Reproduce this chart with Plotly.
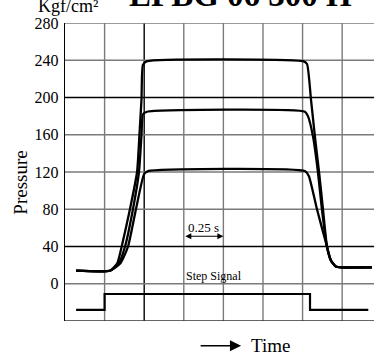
import plotly.graph_objects as go

# ---- data (time in s, pressure in kgf/cm2) ----
t_240 = [0.07, 0.284, 0.33, 0.358, 0.41, 0.455, 0.47, 0.483, 0.492, 0.518, 1.503, 1.528, 1.553, 1.578, 1.604, 1.629, 1.654, 1.679, 1.71, 1.742, 1.938]
p_240 = [14, 14, 22, 40, 80, 120, 160, 198, 235, 239, 239, 236, 198, 158, 120, 80, 40, 25, 18.6, 17.6, 17.6]

t_184 = [0.07, 0.284, 0.34, 0.379, 0.429, 0.467, 0.483, 0.492, 0.518, 1.515, 1.534, 1.566, 1.597, 1.622, 1.654, 1.679, 1.71, 1.742, 1.938]
p_184 = [14, 14, 22, 40, 80, 120, 160, 182, 184.7, 184.7, 180, 158, 120, 80, 40, 25, 18.6, 17.6, 17.6]

t_122 = [0.07, 0.284, 0.35, 0.398, 0.448, 0.499, 0.524, 1.515, 1.54, 1.591, 1.654, 1.679, 1.71, 1.742, 1.938]
p_122 = [14, 14, 22, 40, 80, 117.6, 121, 121, 115.5, 80, 40, 25, 18.6, 17.6, 17.6]

t_step = [0.07, 0.25, 0.25, 1.547, 1.547, 1.915]
s_step = [-28, -28, -11, -11, -28, -28]

y_ticks = [0, 40, 80, 120, 160, 200, 240, 280]
x_grid = [0.25, 0.5, 0.75, 1.0, 1.25, 1.5, 1.75]
y_grid = [0, 40, 80, 120, 160, 200, 240, 280]
dark_y = [200, 40]
dark_x = [0.5]

SERIF = "Liberation Serif"

fig = go.Figure()
for tt, pp in [(t_240, p_240), (t_184, p_184), (t_122, p_122)]:
    fig.add_trace(go.Scatter(x=tt, y=pp, mode="lines",
                             line=dict(color="black", width=2.3, shape="spline", smoothing=0.5),
                             showlegend=False, hoverinfo="skip"))
fig.add_trace(go.Scatter(x=t_step, y=s_step, mode="lines",
                         line=dict(color="black", width=2.2),
                         showlegend=False, hoverinfo="skip"))

shapes = []
for xv in x_grid:
    shapes.append(dict(type="line", xref="x", yref="y", x0=xv, x1=xv, y0=-40, y1=280,
                       line=dict(color="black" if xv in dark_x else "#7a7a7a", width=1.4), layer="below"))
for yv in y_grid:
    shapes.append(dict(type="line", xref="x", yref="y", x0=0, x1=2.0, y0=yv, y1=yv,
                       line=dict(color="black" if yv in dark_y else "#7a7a7a", width=1.4), layer="below"))
shapes.append(dict(type="line", xref="x", yref="y", x0=0, x1=2.0, y0=-40, y1=-40,
                   line=dict(color="#333", width=1.4), layer="below"))

annotations = [
    dict(text="Kgf/cm²", xref="paper", yref="paper", x=-0.095, y=1.0, xanchor="left", yanchor="bottom",
         yshift=5, showarrow=False, font=dict(family=SERIF, size=18, color="black")),
    dict(text="<b>EPBG 06 300 H</b>", xref="paper", yref="paper", x=0.2, y=1.0, xanchor="left", yanchor="bottom",
         yshift=8, showarrow=False, font=dict(family=SERIF, size=33, color="black")),
    dict(text="Pressure", xref="paper", yref="paper", x=-0.145, y=0.465, textangle=-90,
         xanchor="center", yanchor="middle", showarrow=False, font=dict(family=SERIF, size=19, color="black")),
    dict(text="0.25 s", x=0.875, y=60, xref="x", yref="y", showarrow=False,
         font=dict(family=SERIF, size=13, color="black")),
    dict(x=1.0, y=51, ax=0.75, ay=51, xref="x", yref="y", axref="x", ayref="y", text="",
         showarrow=True, arrowhead=2, arrowside="end+start", arrowsize=1, arrowwidth=1.2, arrowcolor="black"),
    dict(text="Step Signal", x=0.75, y=8, xref="x", yref="y", xanchor="left", showarrow=False,
         font=dict(family=SERIF, size=12, color="black")),
    dict(text="Time", xref="paper", yref="paper", x=0.595, y=-0.083, xanchor="left", yanchor="middle",
         showarrow=False, font=dict(family=SERIF, size=19, color="black")),
    dict(xref="paper", yref="paper", x=0.57, y=-0.083, ax=-42, ay=0, text="", showarrow=True,
         arrowhead=2, arrowsize=1.6, arrowwidth=1.4, arrowcolor="black"),
]

fig.update_layout(
    width=374, height=356,
    margin=dict(l=65, r=0, t=23, b=35),
    paper_bgcolor="white", plot_bgcolor="white",
    shapes=shapes, annotations=annotations,
    xaxis=dict(range=[0, 1.951], showgrid=False, zeroline=False, showticklabels=False,
               showline=False, ticks=""),
    yaxis=dict(range=[-40, 280], tickvals=y_ticks, showgrid=False, zeroline=False,
               showline=True, linecolor="black", linewidth=1.4, ticks="",
               ticklabelstandoff=2,
               tickfont=dict(family=SERIF, size=16, color="black")),
    font=dict(family=SERIF),
)

fig.write_html("out.html", config={"displayModeBar": False},
               post_script="document.body.style.margin='0';document.body.style.overflow='hidden';")
